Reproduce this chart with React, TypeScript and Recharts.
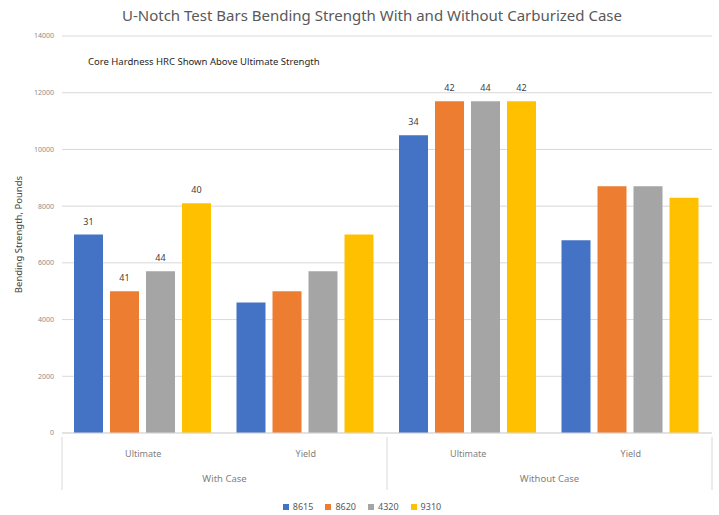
import { Bar, BarChart, CartesianGrid, Legend, LabelList, XAxis, YAxis } from 'recharts';

const GROUPS = ['With Case', 'With Case', 'Without Case', 'Without Case'];
const CATEGORIES = ['Ultimate', 'Yield', 'Ultimate', 'Yield'];

const SERIES = ['8615', '8620', '4320', '9310'];
const VALUES_8615 = [7000, 4600, 10500, 6800];
const VALUES_8620 = [5000, 5000, 11700, 8700];
const VALUES_4320 = [5700, 5700, 11700, 8700];
const VALUES_9310 = [8100, 7000, 11700, 8300];

// core hardness HRC, shown above the ultimate bars only
const HRC_8615 = [31, null, 34, null];
const HRC_8620 = [41, null, 42, null];
const HRC_4320 = [44, null, 44, null];
const HRC_9310 = [40, null, 42, null];

const Y_TICKS = [0, 2000, 4000, 6000, 8000, 10000, 12000, 14000];

const COLORS = ['#4472C4', '#ED7D31', '#A5A5A5', '#FFC000'];
const FONT = '"Noto Sans", sans-serif';

const data = CATEGORIES.map((cat, i) => ({
  key: `${GROUPS[i]}|${cat}`,
  s8615: VALUES_8615[i],
  s8620: VALUES_8620[i],
  s4320: VALUES_4320[i],
  s9310: VALUES_9310[i],
  h8615: HRC_8615[i],
  h8620: HRC_8620[i],
  h4320: HRC_4320[i],
  h9310: HRC_9310[i],
}));

const W = 719;
const H = 515;
const MARGIN = { top: 36, right: 7, bottom: 0, left: 12 };
const Y_AXIS_W = 50;
const PLOT_BOTTOM = 437;
const BAND = (W - MARGIN.left - Y_AXIS_W - MARGIN.right) / CATEGORIES.length;

const CategoryTick = (props: any) => {
  const { x, index } = props;
  const [group, cat] = String(props.payload.value).split('|');
  const sep = (sx: number) => (
    <line x1={sx} x2={sx} y1={PLOT_BOTTOM} y2={PLOT_BOTTOM + 53} stroke="#d9d9d9" />
  );
  return (
    <g>
      <text x={x} y={PLOT_BOTTOM + 20} textAnchor="middle" fontSize={9} fill="#7f7f7f" fontFamily={FONT}>
        {cat}
      </text>
      {index % 2 === 0 && (
        <text x={x + BAND / 2} y={PLOT_BOTTOM + 45} textAnchor="middle" fontSize={9.5} fill="#7f7f7f" fontFamily={FONT}>
          {group}
        </text>
      )}
      {index % 2 === 0 && sep(x - BAND / 2)}
      {index === CATEGORIES.length - 1 && sep(x + BAND / 2)}
    </g>
  );
};

const LegendContent = () => (
  <div
    style={{
      display: 'flex', justifyContent: 'center', gap: 12, marginTop: 5,
      fontFamily: FONT, fontSize: 9, color: '#595959',
    }}
  >
    {SERIES.map((s, i) => (
      <span key={s} style={{ display: 'flex', alignItems: 'center', gap: 4 }}>
        <span style={{ width: 6, height: 6, background: COLORS[i], display: 'inline-block' }} />
        {s}
      </span>
    ))}
  </div>
);

export default function App() {
  return (
    <div style={{ position: 'relative', width: W, height: H, background: '#fff' }}>
      <style>{'body{margin:0}'}</style>
      <div
        style={{
          position: 'absolute', top: 5, left: 0, width: 744, textAlign: 'center',
          fontFamily: FONT, fontSize: 15, color: '#595959',
        }}
      >
        U-Notch Test Bars Bending Strength With and Without Carburized Case
      </div>
      <div
        style={{
          position: 'absolute', top: 55, left: 88,
          fontFamily: FONT, fontSize: 9.5, color: '#262626',
        }}
      >
        Core Hardness HRC Shown Above Ultimate Strength
      </div>
      <BarChart width={W} height={H} data={data} margin={MARGIN} barCategoryGap={12} barGap={7}>
        <CartesianGrid vertical={false} stroke="#d9d9d9" />
        <XAxis
          dataKey="key"
          height={62}
          tickLine={false}
          axisLine={{ stroke: '#d9d9d9' }}
          tick={<CategoryTick />}
          interval={0}
        />
        <YAxis
          width={Y_AXIS_W}
          domain={[0, 14000]}
          ticks={Y_TICKS}
          axisLine={false}
          tickLine={false}
          tick={{ fontSize: 7, fill: '#8c8c8c', fontFamily: FONT }}
          label={{
            value: 'Bending Strength, Pounds', angle: -90, position: 'insideLeft', offset: 7,
            style: { fontSize: 9.5, fill: '#404040', fontFamily: FONT, textAnchor: 'middle' },
          }}
        />
        <Legend verticalAlign="bottom" height={20} content={<LegendContent />} />
        {SERIES.map((s, i) => (
          <Bar key={s} dataKey={`s${s}`} name={s} fill={COLORS[i]} isAnimationActive={false}>
            <LabelList
              dataKey={`h${s}`}
              position="top"
              offset={10}
              style={{ fontSize: 9, fill: '#404040', fontFamily: FONT }}
            />
          </Bar>
        ))}
      </BarChart>
    </div>
  );
}
